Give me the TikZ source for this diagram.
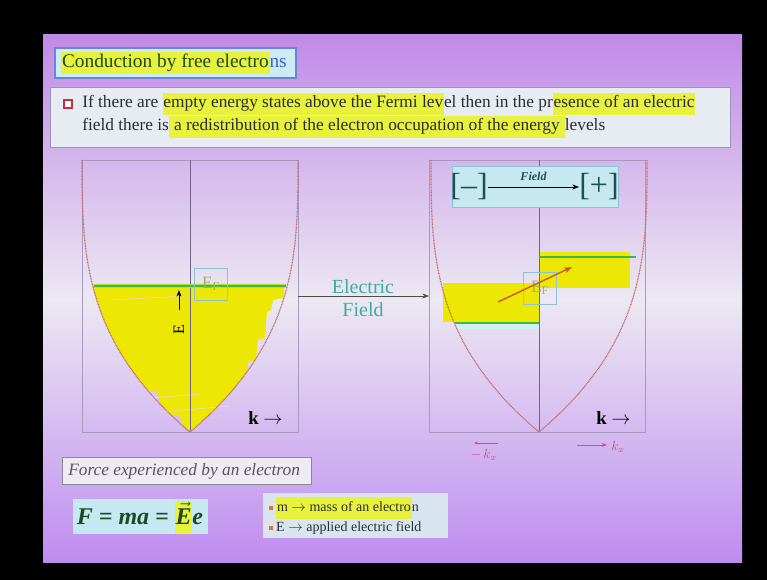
\documentclass[tikz,border=0pt]{standalone}
\usepackage{fontspec}
\setmainfont{Liberation Serif}
\usepackage{amsmath}
\usetikzlibrary{positioning,arrows.meta}
\definecolor{slidetop}{HTML}{C08AE6}
\definecolor{slidemid}{HTML}{ECE8F2}
\definecolor{slidebot}{HTML}{BE8CF0}
\definecolor{hlyellow}{HTML}{E8F23C}
\definecolor{bandyellow}{HTML}{EDE704}
\definecolor{fermigreen}{HTML}{3CB84A}
\definecolor{fermiglow}{HTML}{B8E030}
\definecolor{parabred}{HTML}{C46A6A}
\definecolor{framegray}{HTML}{A69AC0}
\definecolor{axisgray}{HTML}{6E6684}
\definecolor{titlefill}{HTML}{CDEBF3}
\definecolor{titleedge}{HTML}{6C84D2}
\definecolor{titleink}{HTML}{1F4A22}
\definecolor{titleblue}{HTML}{3C64C8}
\definecolor{panelfill}{HTML}{E6ECF2}
\definecolor{paneledge}{HTML}{9A94B8}
\definecolor{bodyink}{HTML}{2C2C34}
\definecolor{fieldteal}{HTML}{3CAE9A}
\definecolor{efgreen}{HTML}{9AB46C}
\definecolor{efedge}{HTML}{8CC4D6}
\definecolor{cyanbox}{HTML}{C6E9F1}
\definecolor{cyanstrip}{HTML}{CFF0F0}
\definecolor{bracketink}{HTML}{1E4E4E}
\definecolor{redarrow}{HTML}{CF5A2A}
\definecolor{handpink}{HTML}{D0507A}
\definecolor{forcefill}{HTML}{EFEBF3}
\definecolor{forceink}{HTML}{56565F}
\definecolor{formulaink}{HTML}{1C4A26}
\definecolor{listfill}{HTML}{D8E5EE}
\definecolor{bulletorange}{HTML}{E07030}
\definecolor{sqred}{HTML}{C8303C}
\newcommand{\hl}[1]{{\setlength{\fboxsep}{0.6pt}\colorbox{hlyellow}{\strut #1}}}
\newcommand{\sqdot}{{\color{bulletorange}\raisebox{0.35ex}{\rule{2.6pt}{2.6pt}}}}

\begin{document}
\begin{tikzpicture}[
  x=0.75pt, y=-0.75pt,
  body/.style={font=\fontsize{13}{15}\selectfont, text=bodyink, anchor=west, inner sep=0pt},
  frame/.style={draw=framegray, line width=0.5pt},
  axis/.style={draw=axisgray, line width=0.5pt},
  parab/.style={draw=parabred, line width=0.9pt, dash pattern=on 0.7pt off 0.5pt},
  fermi/.style={draw=fermigreen, line width=1.8pt},
  glow/.style={draw=fermiglow, line width=3.6pt},
  band/.style={fill=bandyellow},
  streak/.style={draw=white!85!violet, line width=0.6pt, opacity=0.7},
  efbox/.style={draw=efedge, line width=0.5pt, minimum width=25pt, minimum height=24pt, inner sep=0pt, text=efgreen, font=\fontsize{13}{13}\selectfont},
  klabel/.style={font=\fontsize{14}{14}\selectfont\bfseries, anchor=west, inner sep=0pt},
  arr/.style={-{Stealth[length=5pt]}, line width=0.5pt},
  bracket/.style={font=\fontsize{24}{24}\selectfont, text=bracketink, inner sep=0pt},
  hand/.style={text=handpink, font=\fontsize{10}{10}\selectfont\itshape, inner sep=0pt},
]
\useasboundingbox (0,0) rectangle (767,580);
\fill[black] (0,0) rectangle (767,580);
\shade[top color=slidetop, bottom color=slidemid] (43,35) rectangle (742,300);
\shade[top color=slidemid, bottom color=slidebot] (43,300) rectangle (742,562);

% title and statement
\draw[fill=titlefill, draw=titleedge, line width=0.8pt] (55,48) rectangle (296,78);
\node[anchor=west, inner sep=0pt, text=titleink, font=\fontsize{14.5}{16}\selectfont] (title) at (61,63)
  {\hl{Conduction by free electro}{\color{titleblue}ns}};

\draw[fill=panelfill, draw=paneledge, line width=0.6pt] (50,87) rectangle (730,147);
\node[draw=sqred, fill=white, line width=0.9pt, minimum size=6pt, inner sep=0pt] (sq) at (68,104) {};
\node[body] (lineA) at (82,104)
  {If there are \hl{empty energy states above the Fermi lev}el then in the pr\hl{esence of an electric}};
\node[body] (lineB) at (82,127)
  {field there is\hl{ a redistribution of the electron occupation of the energy }levels};

% left diagram: equilibrium
\begin{scope}
  \clip plot[domain=-1:1, samples=81, variable=\t] ({190+sign(\t)*108*(1-(1-abs(\t))^3)}, {432-272*abs(\t)});
  \fill[band] (80,284) -- (285,284) -- (283,298) -- (273,300) -- (271,310) -- (267,312) -- (265,338)
    -- (258,340) -- (256,360) -- (248,362) -- (246,384) -- (236,386) -- (232,396) -- (226,398)
    -- (224,410) -- (212,412) -- (210,424) -- (190,432) -- (182,428) -- (180,416) -- (165,414)
    -- (160,402) -- (157,392) -- (140,390) -- (138,378) -- (130,370) -- (118,364) -- (80,364) -- cycle;
\end{scope}
\draw[streak] (112,300) -- (185,296);
\draw[streak] (150,398) -- (200,394);
\draw[streak] (160,412) -- (230,406);
\draw[frame] (82,160) rectangle (298,432);
\draw[axis] (190,160) -- (190,432);
\draw[parab] plot[domain=-1:1, samples=81, variable=\t] ({190+sign(\t)*108*(1-(1-abs(\t))^3)}, {432-272*abs(\t)});
\draw[glow] (94,286) -- (286,286);
\draw[fermi] (94,286) -- (286,286);
\node[efbox] (efL) at (211,284) {E\textsubscript{F}};
\node[rotate=90, font=\fontsize{12}{12}\selectfont, inner sep=0pt] (Elab) at (179,330) {E};
\coordinate (Ebase) at (179,310);
\coordinate (Etip) at (179,290);
\draw[arr] (Ebase) -- (Etip);
\node[klabel] (kL) at (248,418) {k $\rightarrow$};

% applied field
\node[text=fieldteal, align=center, font=\fontsize{15}{17}\selectfont] (eftxt) at (363,298) {Electric\\Field};
\coordinate (Lframe) at (298,296);
\coordinate (Rframe) at (429,296);
\draw[arr, draw=black!70] (Lframe) -- (Rframe);

% right diagram: shifted distribution
\fill[band] (443,283) rectangle (539,322);
\fill[fill=cyanstrip] (455,322) rectangle (539,329);
\fill[band] (539,252) rectangle (630,288);
\draw[frame] (429,160) rectangle (645,432);
\draw[axis] (539,160) -- (539,432);
\draw[parab] plot[domain=-1:1, samples=81, variable=\t] ({539+sign(\t)*108*(1-(1-abs(\t))^3)}, {432-272*abs(\t)});
\draw[fermi, line width=1.5pt] (455,323) -- (539,323);
\draw[fermi, line width=1.5pt] (539,257) -- (636,257);
\node[efbox] (efR) at (540,288) {E\textsubscript{F}};
\coordinate (shiftA) at (498,302);
\coordinate (shiftB) at (572,267);
\draw[-{Stealth[length=6pt]}, draw=redarrow, line width=1.1pt] (shiftA) -- (shiftB);
\node[klabel] (kR) at (596,418) {k $\rightarrow$};

% field direction box
\draw[fill=cyanbox, draw=efedge, line width=0.6pt] (452,166) rectangle (618,207);
\node[bracket] (minus) at (469,187) {[\textendash]};
\node[bracket] (plus) at (599,187) {[+]};
\draw[arr, line width=0.7pt] (minus.east) -- (plus.west)
  node[midway, above=1pt, font=\fontsize{9}{9}\selectfont\itshape\bfseries, text=bracketink] (fieldlab) {Field};

% hand notes
\node[hand] (kneg) at (484,455) {$-\,k_x$};
\coordinate (negA) at (498,443);
\coordinate (negB) at (474,443);
\draw[-{Stealth[length=3pt]}, draw=handpink, line width=0.5pt] (negA) -- (negB);
\coordinate (posA) at (577,445);
\coordinate (posB) at (607,445);
\draw[-{Stealth[length=4pt]}, draw=handpink, line width=0.6pt] (posA) -- (posB);
\node[hand, anchor=west] (kpos) at (611,447) {$k_x$};

% force
\draw[fill=forcefill, draw=forceink!70, line width=0.7pt] (62,457) rectangle (311,484);
\node[anchor=west, inner sep=0pt, text=forceink, font=\fontsize{13}{13}\selectfont\itshape] (force) at (68,471)
  {Force experienced by an electron};
\draw[fill=cyanbox, draw=none] (73,499) rectangle (208,534);
\node[text=formulaink, inner sep=0pt, font=\fontsize{18}{18}\selectfont\bfseries\itshape] (formula) at (140,517)
  {F = ma = \hl{$\vec{\mbox{E}}$}e};
\draw[fill=listfill, draw=none] (263,493) rectangle (448,538);
\node[anchor=west, inner sep=0pt, align=left, text=bodyink, font=\fontsize{10.5}{15}\selectfont] (legend) at (269,516)
  {\sqdot\ \hl{m $\rightarrow$ mass of an electro}n\\ \sqdot\ E $\rightarrow$ applied electric field};
\end{tikzpicture}
\end{document}
